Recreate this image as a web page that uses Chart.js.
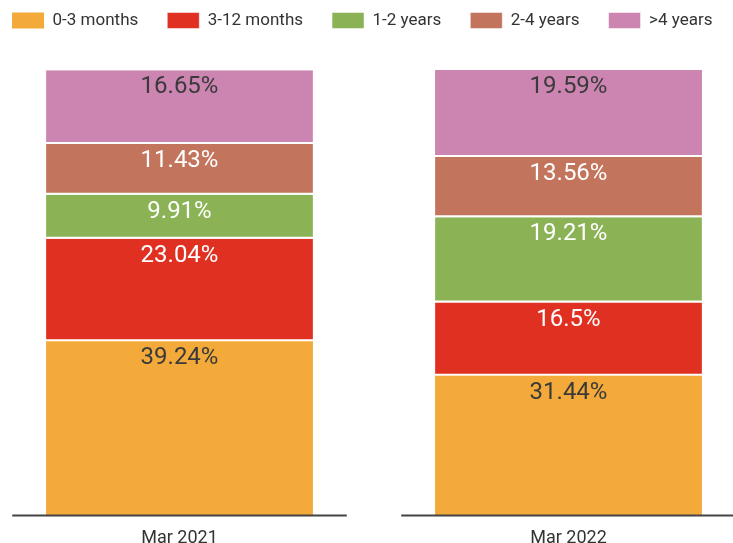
<!DOCTYPE html>
<html>
<head>
<meta charset="utf-8">
<script src="https://cdn.jsdelivr.net/npm/chart.js"></script>
<style>
  html, body { margin: 0; background: #fff; }
  #wrap { width: 733px; height: 543px; }
</style>
</head>
<body>
<div id="wrap"><canvas id="chart"></canvas></div>
<script>
// Data
const categories = ['Mar 2021', 'Mar 2022'];
const seriesNames = ['0-3 months', '3-12 months', '1-2 years', '2-4 years', '>4 years'];
const months0to3 = [39.24, 31.44];
const months3to12 = [23.04, 16.5];
const years1to2 = [9.91, 19.21];
const years2to4 = [11.43, 13.56];
const years4plus = [16.65, 19.59];
const seriesValues = [months0to3, months3to12, years1to2, years2to4, years4plus];

const colors = ['#f4a93b', '#e03021', '#8bb356', '#c3745c', '#cc84b1'];
const labelColors = ['#3a3a3a', '#ffffff', '#ffffff', '#ffffff', '#3a3a3a'];

Chart.defaults.font.family = 'Roboto, "Noto Sans", sans-serif';
Chart.defaults.color = '#333';

// value text near the top of each segment
const valueLabels = {
  id: 'valueLabels',
  afterDatasetsDraw(chart) {
    const ctx = chart.ctx;
    ctx.save();
    ctx.font = '24px Roboto, "Noto Sans", sans-serif';
    ctx.textAlign = 'center';
    ctx.textBaseline = 'middle';
    chart.data.datasets.forEach((ds, i) => {
      chart.getDatasetMeta(i).data.forEach((bar, j) => {
        const p = bar.getProps(['x', 'y'], true);
        ctx.fillStyle = labelColors[i];
        ctx.fillText(ds.data[j] + '%', p.x, p.y + 17);
      });
    });
    ctx.restore();
  }
};

// separate baseline under each bar
const splitAxis = {
  id: 'splitAxis',
  afterDatasetsDraw(chart) {
    const ctx = chart.ctx;
    const x = chart.scales.x;
    const y = chart.chartArea.bottom;
    const step = x.getPixelForValue(1) - x.getPixelForValue(0);
    ctx.save();
    ctx.strokeStyle = '#444';
    ctx.lineWidth = 2;
    categories.forEach((c, i) => {
      const cx = x.getPixelForValue(i);
      ctx.beginPath();
      ctx.moveTo(cx - step * 0.43, y);
      ctx.lineTo(cx + step * 0.43, y);
      ctx.stroke();
    });
    ctx.restore();
  }
};

new Chart(document.getElementById('chart'), {
  type: 'bar',
  data: {
    labels: categories,
    datasets: seriesValues.map((vals, i) => ({
      label: seriesNames[i],
      data: vals,
      backgroundColor: colors[i],
      borderColor: '#fff',
      borderWidth: i === 0 ? 0 : { bottom: 2 },
      borderSkipped: false,
      categoryPercentage: 1,
      barPercentage: 0.686,
      clip: false
    }))
  },
  options: {
    responsive: true,
    maintainAspectRatio: false,
    animation: false,
    layout: { padding: { top: -17, left: -22.5, right: -14, bottom: 0 } },
    plugins: {
      legend: {
        position: 'top',
        labels: {
          boxWidth: 32,
          boxHeight: 16,
          padding: 29,
          color: '#333',
          font: { size: 17 }
        }
      },
      tooltip: { enabled: false }
    },
    scales: {
      x: {
        stacked: true,
        offset: false,
        grid: { display: false, drawTicks: false },
        border: { display: false },
        ticks: { font: { size: 18 }, color: '#333', padding: 12 },
        afterFit: s => { s.height = 27.5; }
      },
      // empty spacer between legend and bars
      x2: {
        position: 'top',
        grid: { display: false, drawTicks: false },
        border: { display: false },
        ticks: { display: false },
        afterFit: s => { s.height = 31; }
      },
      y: {
        stacked: true,
        min: 0,
        max: 100.3,
        grid: { display: false },
        border: { display: false },
        ticks: { display: false },
        afterFit: s => { s.width = 202; }
      },
      y2: {
        position: 'right',
        grid: { display: false },
        border: { display: false },
        ticks: { display: false },
        afterFit: s => { s.width = 178.5; }
      }
    }
  },
  plugins: [valueLabels, splitAxis]
});
</script>
</body>
</html>
